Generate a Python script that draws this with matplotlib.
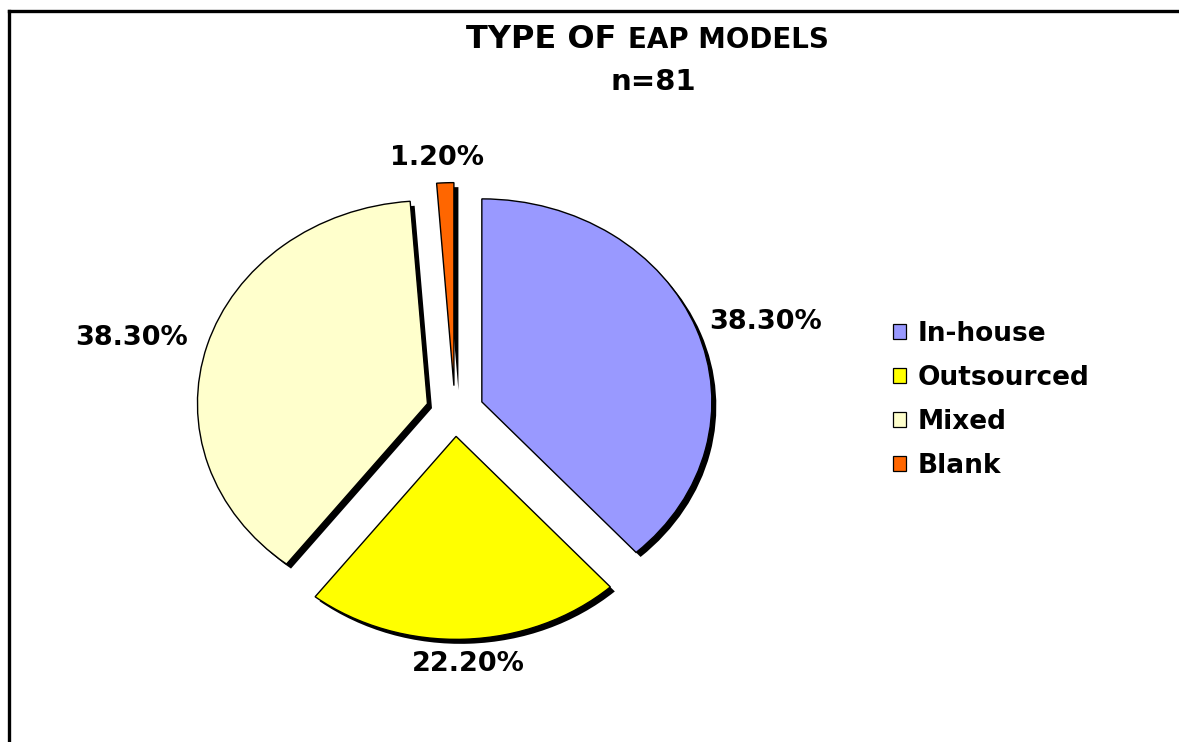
import numpy as np
import matplotlib
matplotlib.use("Agg")
import matplotlib.pyplot as plt
from matplotlib.lines import Line2D
from matplotlib.patches import Patch

# ── data ─────────────────────────────────────────────────────────────────────
categories = ["In-house", "Outsourced", "Mixed", "Blank"]
shares     = [38.3, 22.2, 38.3, 1.2]
pct_labels = ["38.30%", "22.20%", "38.30%", "1.20%"]
colors     = ["#9999FF", "#FFFF00", "#FFFFCC", "#FF6600"]

# label placement (radius, angle in degrees) relative to the pie centre
label_r   = [1.42, 1.25, 1.45, 1.25]
label_ang = [18.0, -87.4, 165.6, 93.6]

W, H = 1179, 742
cx_px, cy_px = 455, 411      # pie centre in pixels
rx_px, ry_px = 230, 203      # horizontal / vertical radius in pixels

fig = plt.figure(figsize=(W / 100, H / 100), dpi=100)
fig.patch.set_facecolor("white")
ax = fig.add_axes([0, 0, 1, 1])

explode = [0.125] * len(shares)

# shadow first (black, shifted a few pixels right / down)
sdx, sdy = 4.5 / rx_px, -4.5 / ry_px
ax.pie(shares, explode=explode, startangle=90, counterclock=False,
       colors=["black"] * len(shares), center=(sdx, sdy),
       wedgeprops=dict(linewidth=0))
wedges, _ = ax.pie(shares, explode=explode, startangle=90, counterclock=False,
                   colors=colors,
                   wedgeprops=dict(edgecolor="black", linewidth=1.0))

ax.set_aspect("auto")
ax.set_xlim(-cx_px / rx_px, (W - cx_px) / rx_px)
ax.set_ylim(-(H - cy_px) / ry_px, cy_px / ry_px)
ax.axis("off")

for txt, r, a in zip(pct_labels, label_r, label_ang):
    t = np.deg2rad(a)
    ax.text(r * np.cos(t), r * np.sin(t), txt, ha="center", va="center",
            fontsize=19.5, fontweight="bold", family="DejaVu Sans")

# ── title ────────────────────────────────────────────────────────────────────
fig.text(617 / W, 1 - 48 / H, "TYPE OF", ha="right", va="baseline",
         fontsize=23, fontweight="bold", family="DejaVu Sans")
fig.text(628 / W, 1 - 48 / H, "EAP MODELS", ha="left", va="baseline",
         fontsize=20, fontweight="bold", family="DejaVu Sans")
fig.text(653 / W, 1 - 90 / H, "n=81", ha="center", va="baseline",
         fontsize=21, fontweight="bold", family="DejaVu Sans")

# ── legend ───────────────────────────────────────────────────────────────────
handles = [Patch(facecolor=c, edgecolor="black", linewidth=0.9) for c in colors]
leg = fig.legend(handles, categories, loc="center left",
                 bbox_to_anchor=(893 / W, 1 - 400 / H), frameon=False,
                 borderpad=0, borderaxespad=0, handlelength=0.5,
                 handleheight=0.5, handletextpad=0.45, labelspacing=0.69,
                 prop=dict(family="DejaVu Sans", weight="bold", size=19))

# ── outer frame (only left and top edges visible) ────────────────────────────
fig.add_artist(Line2D([9 / W, 9 / W], [0, 1 - 10.5 / H], color="black",
                      linewidth=2.4, transform=fig.transFigure))
fig.add_artist(Line2D([9 / W, 1], [1 - 10.5 / H, 1 - 10.5 / H], color="black",
                      linewidth=2.4, transform=fig.transFigure))

plt.savefig("out.png", dpi=100, facecolor="white")
